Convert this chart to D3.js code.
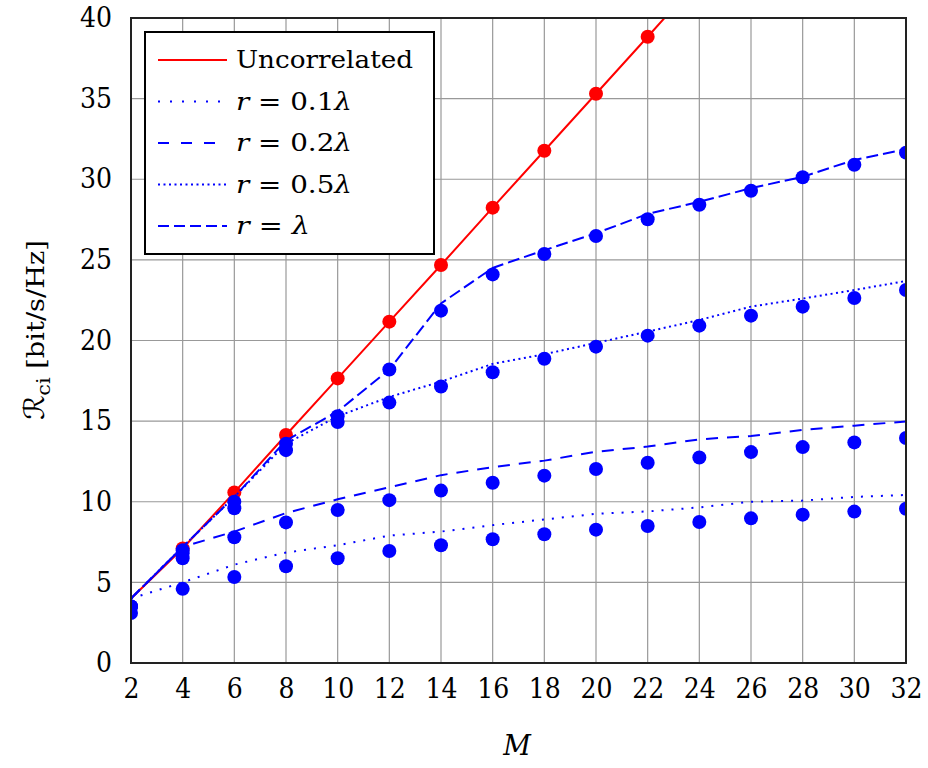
<!DOCTYPE html>
<html><head><meta charset="utf-8">
<script src="https://cdn.jsdelivr.net/npm/d3@7"></script>
<style>body{margin:0;background:#fff}</style>
</head><body>
<svg id="c" width="928" height="768"></svg>
<script>
const M = [2,4,6,8,10,12,14,16,18,20,22,24,26,28,30,32];
const Munc = [2,4,6,8,10,12,14,16,18,20,22,24];
const uncLine = [4.0,7.1,10.58,14.14,17.65,21.17,24.68,28.24,31.77,35.3,38.84,42.4];
const Muncdots = [4,6,8,10,12,14,16,18,20,22];
const uncDots = [7.1,10.58,14.14,17.65,21.17,24.68,28.24,31.77,35.3,38.84];

const r01Line = [4.0,5.0,6.1,6.85,7.3,7.9,8.15,8.55,8.9,9.25,9.4,9.65,10.0,10.07,10.3,10.42];
const r02Line = [4.0,7.2,8.15,9.3,10.15,10.9,11.65,12.15,12.55,13.1,13.42,13.87,14.08,14.45,14.72,14.98];
const r05Line = [4.0,7.2,10.3,13.6,15.3,16.5,17.45,18.55,19.15,19.85,20.55,21.27,22.1,22.6,23.13,23.69];
const r1Line  = [4.0,7.2,10.3,13.8,15.6,18.2,22.3,24.5,25.6,26.65,27.85,28.6,29.45,30.15,31.2,31.86];

const r01Dots = [3.1,4.6,5.33,6.0,6.5,6.95,7.3,7.67,7.98,8.27,8.5,8.74,8.97,9.2,9.39,9.57];
const r02Dots = [3.5,6.5,7.8,8.72,9.49,10.1,10.69,11.18,11.62,12.03,12.42,12.74,13.08,13.39,13.68,13.95];
const r05Dots = [3.5,6.8,9.6,13.2,14.95,16.15,17.15,18.03,18.87,19.62,20.3,20.92,21.54,22.1,22.64,23.13];
const r1Dots  = [3.5,7.0,10.0,13.6,15.3,18.2,21.85,24.1,25.36,26.48,27.52,28.42,29.29,30.12,30.9,31.65];

const xTicks = [2,4,6,8,10,12,14,16,18,20,22,24,26,28,30,32];
const yTicks = [0,5,10,15,20,25,30,35,40];
const legendLabels = ["Uncorrelated","r = 0.1λ","r = 0.2λ","r = 0.5λ","r = λ"];

const L=131, R=906, T=18, B=663;
const svg = d3.select("#c");
const x = d3.scaleLinear().domain([2,32]).range([L,R]);
const y = d3.scaleLinear().domain([0,40]).range([B,T]);
const font = "'DejaVu Serif', serif";
const FS = 27;

svg.append("defs").append("clipPath").attr("id","clip")
  .append("rect").attr("x",L).attr("y",T).attr("width",R-L).attr("height",B-T);

// grid
const g = svg.append("g");
g.selectAll(".vg").data(xTicks).join("line")
  .attr("x1",d=>x(d)).attr("x2",d=>x(d)).attr("y1",T).attr("y2",B)
  .attr("stroke","#999").attr("stroke-width",1.2);
g.selectAll(".hg").data(yTicks).join("line")
  .attr("y1",d=>y(d)).attr("y2",d=>y(d)).attr("x1",L).attr("x2",R)
  .attr("stroke","#999").attr("stroke-width",1.2);

// axes
const xAxis = d3.axisBottom(x).tickValues(xTicks).tickSize(0).tickPadding(16).tickFormat(d3.format("d"));
const yAxis = d3.axisLeft(y).tickValues(yTicks).tickSize(0).tickPadding(19).tickFormat(d3.format("d"));
const ax = svg.append("g").attr("transform",`translate(0,${B})`).call(xAxis);
const ay = svg.append("g").attr("transform",`translate(${L},0)`).call(yAxis);
[ax,ay].forEach(a=>{ a.select(".domain").remove();
  a.selectAll("text").attr("font-family",font).attr("font-size",FS).attr("fill","#000")
   .attr("textLength",d=>String(d).length*16).attr("lengthAdjust","spacingAndGlyphs"); });

const plot = svg.append("g").attr("clip-path","url(#clip)");
const line = d3.line().x(d=>x(d[0])).y(d=>y(d[1]));

// uncorrelated first (blue drawn over it)
plot.append("path").attr("d",line(Munc.map((m,i)=>[m,uncLine[i]])))
  .attr("fill","none").attr("stroke","#ff0000").attr("stroke-width",2);
plot.append("g").selectAll("circle").data(uncDots).join("circle")
  .attr("cx",(d,i)=>x(Muncdots[i])).attr("cy",d=>y(d)).attr("r",7).attr("fill","#ff0000");

const series = [
  {v:r01Line, dots:r01Dots, dash:"2,8"},
  {v:r02Line, dots:r02Dots, dash:"12,9"},
  {v:r05Line, dots:r05Dots, dash:"2,3.5"},
  {v:r1Line, dots:r1Dots, dash:"12,5"},
];
series.forEach(s=>{
  plot.append("path").attr("d",line(M.map((m,i)=>[m,s.v[i]])))
    .attr("fill","none").attr("stroke","#0000ff").attr("stroke-width",2).attr("stroke-dasharray",s.dash);
  plot.append("g").selectAll("circle").data(s.dots).join("circle")
    .attr("cx",(d,i)=>x(M[i])).attr("cy",d=>y(d)).attr("r",7).attr("fill","#0000ff");
});

// frame
svg.append("rect").attr("x",L).attr("y",T).attr("width",R-L).attr("height",B-T)
  .attr("fill","none").attr("stroke","#222").attr("stroke-width",2);

// legend
const lg = svg.append("g");
lg.append("rect").attr("x",145).attr("y",32).attr("width",289).attr("height",222)
  .attr("fill","#fff").attr("stroke","#000").attr("stroke-width",2);
const lstyles = [
  {c:"#ff0000", dash:null, x2:227},
  {c:"#0000ff", dash:"2,10", x2:222},
  {c:"#0000ff", dash:"11,12", x2:218},
  {c:"#0000ff", dash:"2,3.5", x2:227},
  {c:"#0000ff", dash:"11,5", x2:227},
];
const textW = [177,116,116,116,74];
legendLabels.forEach((lab,i)=>{
  const yy = 60 + i*41.5;
  const st = lstyles[i];
  const ln = lg.append("line").attr("x1",158).attr("x2",st.x2).attr("y1",yy).attr("y2",yy)
    .attr("stroke",st.c).attr("stroke-width",2);
  if(st.dash) ln.attr("stroke-dasharray",st.dash);
  const t = lg.append("text").attr("x",236).attr("y",yy+8).attr("font-family",font).attr("font-size",25)
    .attr("textLength",textW[i]).attr("lengthAdjust","spacingAndGlyphs");
  if(i===0){ t.text(lab); }
  else {
    const parts = lab.split(" = ");
    t.append("tspan").attr("font-style","italic").text(parts[0]);
    t.append("tspan").text(" = ");
    const num = parts[1].replace("λ","");
    if(num) t.append("tspan").text(num);
    t.append("tspan").attr("font-style","italic").text("λ");
  }
});

// axis labels
svg.append("text").attr("x",517).attr("y",755).attr("text-anchor","middle")
  .attr("font-family",font).attr("font-size",FS).attr("font-style","italic").text("M");
const yl = svg.append("text").attr("transform",`translate(44,330) rotate(-90)`)
  .attr("text-anchor","middle").attr("font-family",font).attr("font-size",25)
  .attr("textLength",180).attr("lengthAdjust","spacingAndGlyphs");
yl.append("tspan").attr("font-family","'DejaVu Sans', sans-serif").attr("font-size",28).attr("font-style","italic").text("ℛ");
yl.append("tspan").attr("font-size",19).attr("dy",6).text("ci");
yl.append("tspan").attr("dy",-6).text(" [bit/s/Hz]");
</script>
</body></html>
